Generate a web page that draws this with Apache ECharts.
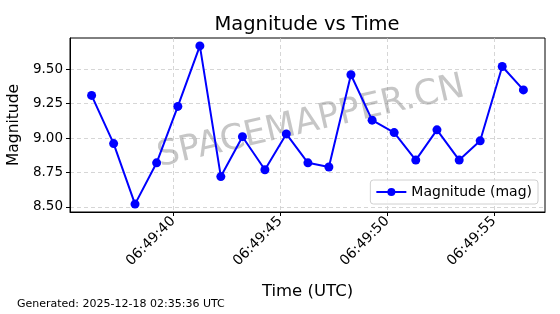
<!DOCTYPE html>
<html><head><meta charset="utf-8">
<script src="https://cdn.jsdelivr.net/npm/echarts@6/dist/echarts.min.js"></script>
<style>html,body{margin:0;padding:0;background:#fff}#c{width:560px;height:314px}</style>
</head><body><div id="c"></div>
<script>
const times = ['06:49:36.19','06:49:37.22','06:49:38.22','06:49:39.23','06:49:40.22','06:49:41.25','06:49:42.23','06:49:43.24','06:49:44.29','06:49:45.29','06:49:46.30','06:49:47.28','06:49:48.31','06:49:49.30','06:49:50.33','06:49:51.34','06:49:52.33','06:49:53.37','06:49:54.35','06:49:55.38','06:49:56.37'];
const magnitudes = [9.31,8.96,8.52,8.82,9.23,9.67,8.72,9.01,8.77,9.03,8.82,8.79,9.46,9.13,9.04,8.84,9.06,8.84,8.98,9.52,9.35];
const xTickLabels = ['06:49:40','06:49:45','06:49:50','06:49:55'];
const yTicks = [8.50, 8.75, 9.00, 9.25, 9.50];
const seriesName = 'Magnitude (mag)';

function toSec(s){const p=s.split(':');return (+p[0])*3600+(+p[1])*60+(+p[2]);}
function pad(n){return (n<10?'0':'')+n;}
function fmt(v){const t=Math.round(v);const h=Math.floor(t/3600),m=Math.floor((t%3600)/60),s=t%60;return pad(h)+':'+pad(m)+':'+pad(s);}

const xs = times.map(toSec);
const xTickVals = xTickLabels.map(toSec);
const xSpan = xs[xs.length-1]-xs[0];
const xMin = xs[0]-0.05*xSpan, xMax = xs[xs.length-1]+0.05*xSpan;
const yLo = Math.min(...magnitudes), yHi = Math.max(...magnitudes), ySpan=yHi-yLo;
const yMin = yLo-0.05*ySpan, yMax = yHi+0.05*ySpan;
const data = xs.map((x,i)=>[x,magnitudes[i]]);
const FONT='DejaVu Sans';
const chart = echarts.init(document.getElementById('c'),null,{renderer:'canvas'});
chart.setOption({
  animation:false,
  backgroundColor:'#fff',
  title:{text:'Magnitude vs Time',left:302,top:10,textAlign:'center',textStyle:{fontFamily:FONT,fontSize:19.5,fontWeight:'normal',color:'#000'}},
  grid:{left:70,right:15,top:38,bottom:102,show:true,borderColor:'#000',borderWidth:1,backgroundColor:'transparent',outerBoundsMode:'none',containLabel:false},
  legend:{data:[{name:seriesName}],right:22,top:180,orient:'vertical',itemWidth:30,itemHeight:10,itemGap:4,
    padding:[5,6,5,5],borderColor:'#d0d0d0',borderWidth:1,borderRadius:3,backgroundColor:'rgba(255,255,255,0.85)',
    textStyle:{fontFamily:FONT,fontSize:14,color:'#000'}},
  xAxis:{type:'value',min:xMin,max:xMax,name:'Time (UTC)',nameLocation:'middle',nameGap:71,
    nameTextStyle:{fontFamily:FONT,fontSize:16.5,color:'#000'},
    axisLine:{show:true,lineStyle:{color:'#000'}},
    axisTick:{show:true,customValues:xTickVals,length:4,lineStyle:{color:'#000'}},
    axisLabel:{customValues:xTickVals,rotate:45,formatter:fmt,fontFamily:FONT,fontSize:14,color:'#000',margin:7},
    splitLine:{show:true,lineStyle:{color:'#cccccc',type:[4,3],width:0.8}}},
  yAxis:{type:'value',min:yMin,max:yMax,name:'Magnitude',nameLocation:'middle',nameGap:44,
    nameTextStyle:{fontFamily:FONT,fontSize:15.5,color:'#000'},
    axisLine:{show:true,lineStyle:{color:'#000'}},
    axisTick:{show:true,customValues:yTicks,length:4,lineStyle:{color:'#000'}},
    axisLabel:{customValues:yTicks,formatter:v=>v.toFixed(2),fontFamily:FONT,fontSize:13.5,color:'#000',margin:7},
    splitLine:{show:true,lineStyle:{color:'#cccccc',type:[4,3],width:0.8}}},
  graphic:[
    {type:'text',left:17,top:299,style:{text:'Generated: 2025-12-18 02:35:36 UTC',font:'11px "DejaVu Sans"',fill:'#000'}},
    {type:'text',x:311,y:122,rotation:13*Math.PI/180,z:1,style:{text:'SPACEMAPPER.CN',font:'35px "DejaVu Sans"',fill:'rgba(128,128,128,0.45)',align:'center',verticalAlign:'middle'}}
  ],
  series:[{name:seriesName,type:'line',data:data,symbol:'circle',symbolSize:9,showSymbol:true,
    lineStyle:{color:'#0000ff',width:2},itemStyle:{color:'#0000ff'},z:3}]
});
</script></body></html>
